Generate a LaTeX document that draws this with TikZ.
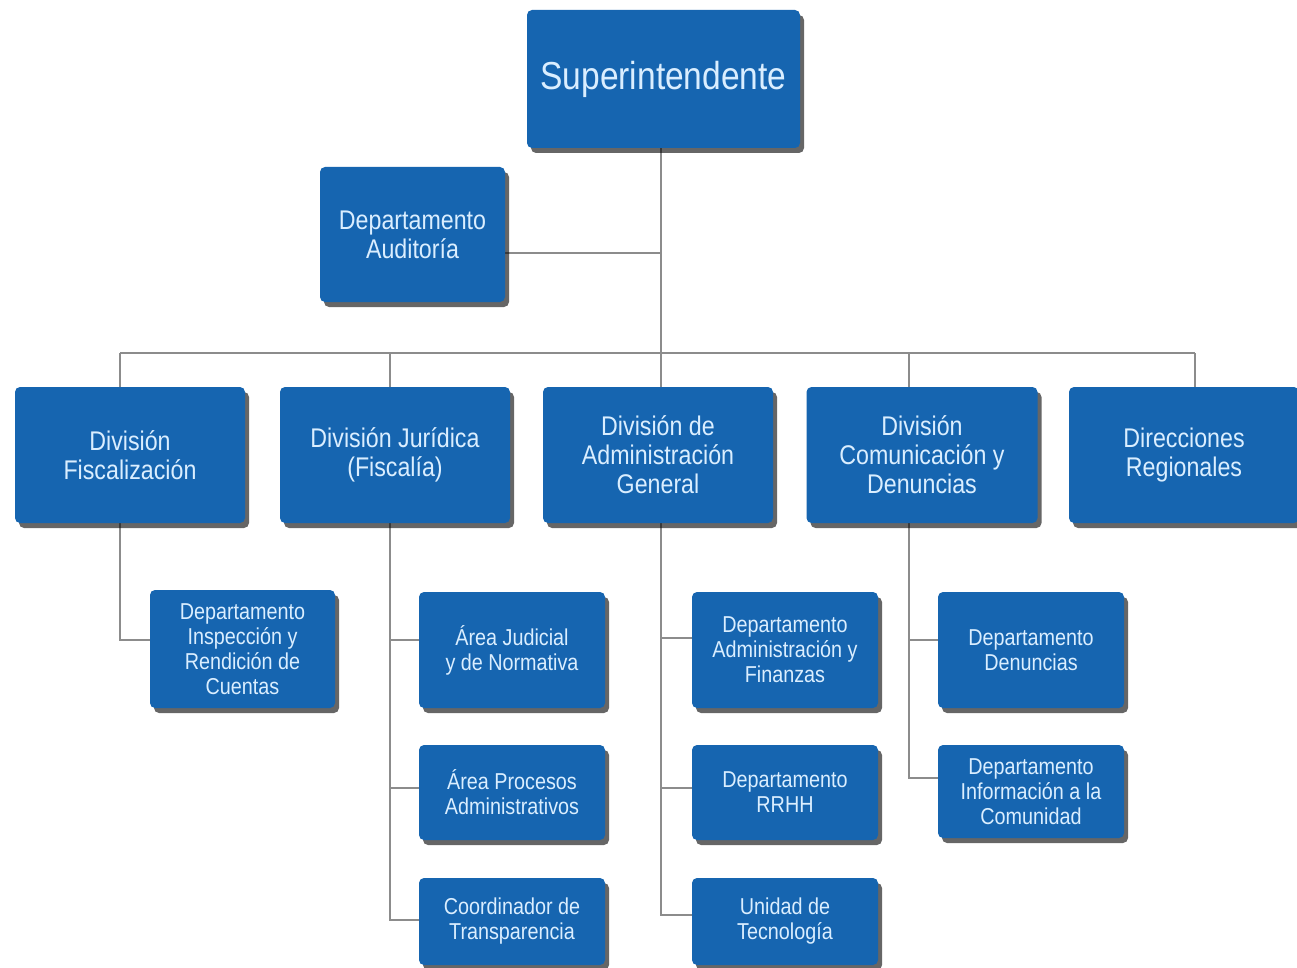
\documentclass[tikz,border=0pt]{standalone}
\usepackage{fontspec}
\setmainfont[FakeStretch=0.86]{Liberation Sans}
\usetikzlibrary{shadows,backgrounds}
\definecolor{boxblue}{RGB}{22,101,176}
\definecolor{boxtext}{RGB}{218,238,255}
\definecolor{linegray}{RGB}{140,140,140}
\tikzset{
  orgbox/.style={rounded corners=5pt, fill=boxblue, text=boxtext, align=center,
    inner sep=0pt, anchor=center,
    drop shadow={shadow xshift=4pt, shadow yshift=-5pt, fill=black, opacity=0.6}},
  bigbox/.style={orgbox, font=\fontsize{39}{42}\selectfont},
  midbox/.style={orgbox, font=\fontsize{27}{29}\selectfont},
  smallbox/.style={orgbox, font=\fontsize{23}{25}\selectfont},
  conn/.style={draw=linegray, line width=1.8pt}
}
\begin{document}
\begin{tikzpicture}[x=1pt,y=-1pt]
\useasboundingbox (0,0) rectangle (1297,968);

% nodes
\node[bigbox, minimum width=273pt, minimum height=138pt] (sup) at (663.5,79) {Superintendente};
\node[midbox, minimum width=185pt, minimum height=135pt] (aud) at (412.5,234.5) {Departamento\\Auditoría};

\node[midbox, minimum width=230pt, minimum height=136pt] (fis) at (130,455) {División\\Fiscalización};
\node[midbox, minimum width=230pt, minimum height=136pt] (jur) at (395,455) {División Jurídica\\(Fiscalía)};
\node[midbox, minimum width=230pt, minimum height=136pt] (adm) at (658,455) {División de\\Administración\\General};
\node[midbox, minimum width=231pt, minimum height=136pt] (com) at (922,455) {División\\Comunicación y\\Denuncias};
\node[midbox, minimum width=230pt, minimum height=136pt] (dir) at (1184,455) {Direcciones\\Regionales};

\node[smallbox, minimum width=185pt, minimum height=118pt] (insp) at (242.5,649) {Departamento\\Inspección y\\Rendición de\\Cuentas};

\node[smallbox, minimum width=186pt, minimum height=116pt] (jud) at (512,650) {Área Judicial\\y de Normativa};
\node[smallbox, minimum width=186pt, minimum height=95pt] (proc) at (512,792.5) {Área Procesos\\Administrativos};
\node[smallbox, minimum width=186pt, minimum height=87pt] (coord) at (512,921.5) {Coordinador de\\Transparencia};

\node[smallbox, minimum width=186pt, minimum height=116pt] (fin) at (785,650) {Departamento\\Administración y\\Finanzas};
\node[smallbox, minimum width=186pt, minimum height=95pt] (rrhh) at (785,792.5) {Departamento\\RRHH};
\node[smallbox, minimum width=186pt, minimum height=87pt] (tec) at (785,921.5) {Unidad de\\Tecnología};

\node[smallbox, minimum width=186pt, minimum height=116pt] (den) at (1031,650) {Departamento\\Denuncias};
\node[smallbox, minimum width=186pt, minimum height=93pt] (info) at (1031,791.5) {Departamento\\Información a la\\Comunidad};

% junction coordinates
\coordinate (t) at (661,353);
\coordinate (ja) at (661,253);
\coordinate (b1) at (120,353);
\coordinate (b2) at (390,353);
\coordinate (b4) at (909,353);
\coordinate (b5) at (1195,353);
\coordinate (v1) at (120,640);
\coordinate (v2a) at (390,640);
\coordinate (v2b) at (390,788);
\coordinate (v2c) at (390,920);
\coordinate (v3a) at (661,638);
\coordinate (v3b) at (661,788);
\coordinate (v3c) at (661,915);
\coordinate (v4a) at (909,640);
\coordinate (v4b) at (909,778);

\begin{scope}[on background layer]
\fill[white] (0,0) rectangle (1297,968);
\draw[conn] (sup.south -| t) -- (t);
\draw[conn] (aud.east |- ja) -- (ja);
\draw[conn] (b1) -- (b5);
\draw[conn] (b1) -- (fis.north -| b1);
\draw[conn] (b2) -- (jur.north -| b2);
\draw[conn] (t) -- (adm.north -| t);
\draw[conn] (b4) -- (com.north -| b4);
\draw[conn] (b5) -- (dir.north -| b5);
\draw[conn] (fis.south -| v1) -- (v1) -- (insp.west |- v1);
\draw[conn] (jur.south -| v2a) -- (v2c) -- (coord.west |- v2c);
\draw[conn] (v2a) -- (jud.west |- v2a);
\draw[conn] (v2b) -- (proc.west |- v2b);
\draw[conn] (adm.south -| v3a) -- (v3c) -- (tec.west |- v3c);
\draw[conn] (v3a) -- (fin.west |- v3a);
\draw[conn] (v3b) -- (rrhh.west |- v3b);
\draw[conn] (com.south -| v4a) -- (v4b) -- (info.west |- v4b);
\draw[conn] (v4a) -- (den.west |- v4a);
\end{scope}
\end{tikzpicture}
\end{document}
